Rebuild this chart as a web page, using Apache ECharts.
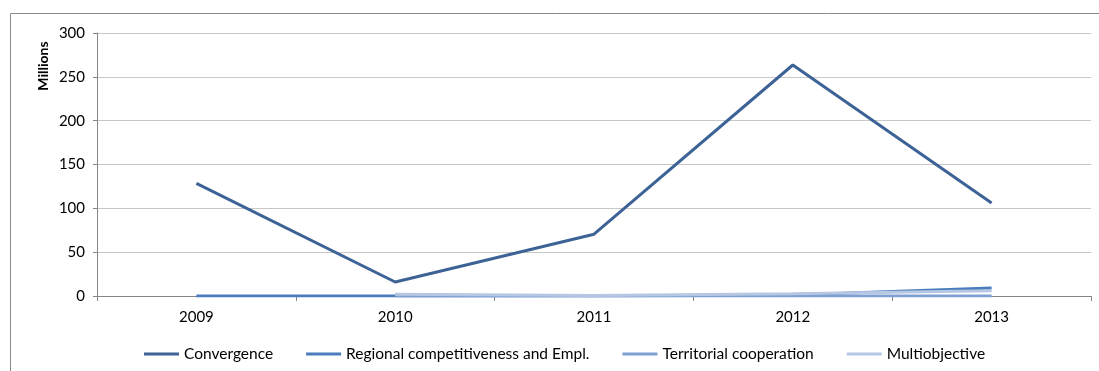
<!DOCTYPE html>
<html><head><meta charset="utf-8">
<script src="https://cdn.jsdelivr.net/npm/echarts@6/dist/echarts.min.js"></script>
<style>html,body{margin:0;padding:0;background:#fff}#c{width:1099px;height:371px}</style>
</head><body><div id="c"></div>
<script>
const years = ['2009','2010','2011','2012','2013'];
const convergence = [128.5, 16, 70.5, 263.5, 106];
const regional = [0, 0, 0, 1, 9];
const territorial = [null, 0, 0, 0, 0];
const multiobjective = [null, 2, 0.5, 2.5, 6];
const seriesNames = ['Convergence','Regional competitiveness and Empl.','Territorial cooperation','Multiobjective'];
const colors = ['#3d6396','#4a7dbd','#7f9fd3','#b6c7e3'];
const yTicks = {min:0, max:300, interval:50};

const font = 'Lato';
const chart = echarts.init(document.getElementById('c'));
const dataSets = [convergence, regional, territorial, multiobjective];
chart.setOption({
  animation:false,
  color: colors,
  textStyle:{fontFamily:font},
  grid:{left:97,right:8,top:33,bottom:75,containLabel:false},
  graphic:[
    {type:'rect',shape:{x:10.5,y:13.5,width:1200,height:500},style:{fill:'none',stroke:'#8a8a8a',lineWidth:1},silent:true},
    {type:'text',x:43,y:66,rotation:Math.PI/2,style:{text:'Millions',font:'bold 14px Lato',fill:'#000',align:'center',verticalAlign:'middle'}}
  ],
  legend:{
    bottom:4, left:139,
    itemWidth:35, itemHeight:3, itemGap:33,
    icon:'rect',
    textStyle:{fontFamily:font,fontSize:15.5,color:'#000'},
    data:seriesNames
  },
  xAxis:{
    type:'category', data:years, boundaryGap:true,
    axisLine:{lineStyle:{color:'#868686',width:1}},
    axisTick:{show:true,length:5,lineStyle:{color:'#868686'}},
    axisLabel:{color:'#000',fontSize:15,margin:14,fontFamily:font}
  },
  yAxis:{
    type:'value', min:yTicks.min, max:yTicks.max, interval:yTicks.interval,
    axisLine:{show:true,lineStyle:{color:'#868686'}},
    axisTick:{show:true,length:4,lineStyle:{color:'#868686'}},
    axisLabel:{color:'#000',fontSize:15,margin:12,fontFamily:font},
    splitLine:{lineStyle:{color:'#c8c8c8'}}
  },
  series: seriesNames.map((n,i)=>({
    name:n, type:'line', data:dataSets[i], symbol:'none',
    lineStyle:{width:3,color:colors[i]}, itemStyle:{color:colors[i]},
    connectNulls:false, z:2+i
  }))
});
</script></body></html>
